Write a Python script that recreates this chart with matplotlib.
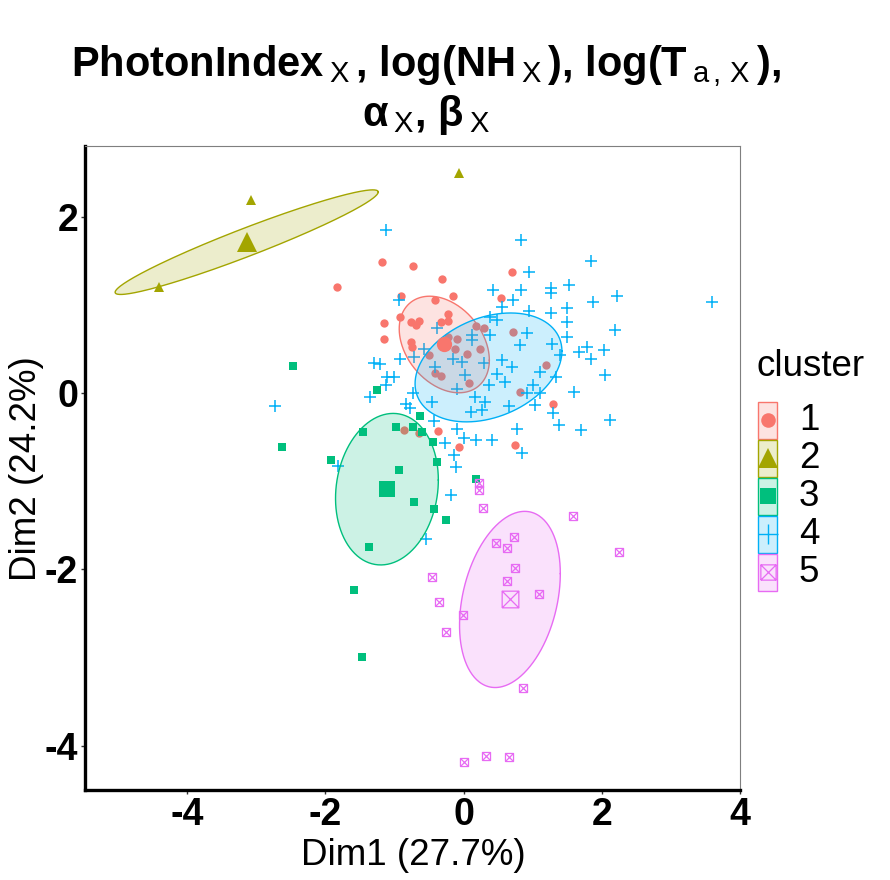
import numpy as np
import matplotlib
matplotlib.use("Agg")
import matplotlib.pyplot as plt
from matplotlib.path import Path
from matplotlib.patches import Rectangle

plt.rcParams['font.family'] = ['Liberation Sans', 'DejaVu Sans']
plt.rcParams['mathtext.fontset'] = 'custom'
plt.rcParams['mathtext.rm'] = 'Liberation Sans'
plt.rcParams['mathtext.bf'] = 'Liberation Sans:bold'
plt.rcParams['mathtext.it'] = 'Liberation Sans:italic'
plt.rcParams['axes.unicode_minus'] = False

colors = ['#F8766D', '#A3A500', '#00BF7D', '#00B0F6', '#E76BF3']
cluster_names = ['1', '2', '3', '4', '5']

# cluster 1
c1_x = [-1.18, -0.73, -0.31, -1.83, -0.15, -0.90, -0.42, 0.70, 0.54, -0.92,
        -1.15, -0.76, -0.64, -0.69, -0.23, -0.23, -0.33, -1.15, -0.76, -0.75,
        -0.23, -0.09, -0.12, 0.18, 0.30, 0.72, 0.24, 0.05, -0.50, -0.42,
        -0.33, 0.08, 1.19, 0.82, 1.30, -0.87, -0.64, -0.37, -0.06, 0.75]
c1_y = [1.49, 1.44, 1.29, 1.20, 1.10, 1.10, 1.05, 1.37, 1.08, 0.86,
        0.79, 0.81, 0.82, 0.77, 0.89, 0.82, 0.80, 0.61, 0.58, 0.52,
        0.64, 0.61, 0.50, 0.76, 0.74, 0.69, 0.50, 0.44, 0.43, 0.23,
        0.19, 0.11, 0.32, 0.01, -0.12, -0.42, -0.45, -0.43, -0.61, -0.59]

# cluster 2
c2_x = [-0.07, -3.08, -4.41]
c2_y = [2.49, 2.19, 1.20]

# cluster 3
c3_x = [-2.47, -1.26, -2.63, -1.92, -1.46, -0.98, -0.74, -0.63, -0.60, -0.44,
        -0.39, -0.94, -0.72, -0.43, -0.25, 0.18, -1.37, -1.58, -1.47]
c3_y = [0.31, 0.03, -0.61, -0.76, -0.44, -0.38, -0.39, -0.26, -0.44, -0.56,
        -0.78, -0.87, -1.24, -1.32, -1.44, -0.98, -1.74, -2.23, -2.99]

# cluster 4
c4_x = [-1.13, 0.83, 1.84, 0.94, 0.43, 0.83, 1.27, 1.27, 1.52, 2.22,
        0.71, 1.87, -0.93, 0.56, 0.95, 1.26, 1.50, 0.38, 0.49, 1.50,
        2.19, -0.38, 0.12, 0.38, 0.91, 0.12, 1.50, 0.82, 1.28, -0.58,
        -0.92, -0.72, -0.15, -0.02, 0.29, 0.56, 1.40, 1.67, 1.79, 2.03,
        1.84, -1.30, -1.21, -0.41, 0.70, 1.11, 0.49, -1.11, -1.01, 0.02,
        0.60, 1.33, 2.04, -1.13, -0.09, 0.36, 1.01, -1.36, -0.73, -0.46,
        0.17, 0.31, 0.92, 1.11, 1.60, -0.84, -0.78, 0.10, 0.27, 0.65,
        1.04, 1.30, 2.12, -0.43, -0.10, 0.77, 1.38, 1.70, 0.00, 0.18,
        0.41, -0.27, 0.84, -0.14, -2.73, -1.82, -0.18, -0.55, -0.11, 3.60]
c4_y = [1.85, 1.73, 1.50, 1.37, 1.17, 1.17, 1.19, 1.13, 1.22, 1.10,
        1.05, 1.03, 1.05, 0.97, 0.93, 0.91, 0.96, 0.86, 0.83, 0.81,
        0.71, 0.74, 0.66, 0.66, 0.68, 0.60, 0.64, 0.54, 0.55, 0.50,
        0.38, 0.41, 0.38, 0.35, 0.34, 0.37, 0.43, 0.47, 0.52, 0.49,
        0.39, 0.34, 0.33, 0.30, 0.30, 0.24, 0.22, 0.18, 0.18, 0.20,
        0.12, 0.18, 0.20, 0.09, 0.05, 0.09, 0.09, -0.04, 0.00, -0.10,
        -0.04, -0.10, 0.00, 0.00, 0.01, -0.12, -0.17, -0.21, -0.19, -0.15,
        -0.14, -0.23, -0.31, -0.32, -0.41, -0.41, -0.36, -0.42, -0.51, -0.53,
        -0.53, -0.57, -0.68, -0.70, -0.15, -0.83, -1.16, -1.66, -0.84, 1.03]

# cluster 5
c5_x = [0.22, 0.22, 0.28, 1.58, 2.25, 0.73, 0.47, 0.63, 0.74, 0.63,
        1.09, -0.46, -0.36, -0.01, -0.26, 0.86, 0.00, 0.33, 0.66]
c5_y = [-1.02, -1.10, -1.30, -1.39, -1.80, -1.63, -1.70, -1.76, -1.98, -2.13,
        -2.28, -2.09, -2.37, -2.52, -2.71, -3.34, -4.18, -4.11, -4.13]

# cluster centres (cluster 4 centre is hidden in the picture)
center_x = [-0.28, -3.14, -1.11, 0.36, 0.67]
center_y = [0.55, 1.71, -1.09, 0.29, -2.34]
show_center = [True, True, True, False, True]

# ellipse shape matrices (data units)
ell_sxx = [0.4253, 3.626, 0.5535, 1.1296, 0.532]
ell_syy = [0.2996, 0.3514, 0.7376, 0.3809, 0.997]
ell_sxy = [-0.1157, 1.0815, 0.0772, 0.197, 0.2134]

xs = [c1_x, c2_x, c3_x, c4_x, c5_x]
ys = [c1_y, c2_y, c3_y, c4_y, c5_y]

# square with a cross inside (R shape 7)
boxx = Path([(-1, -1), (1, -1), (1, 1), (-1, 1), (-1, -1),
             (-1, -1), (1, 1), (-1, 1), (1, -1)],
            [Path.MOVETO, Path.LINETO, Path.LINETO, Path.LINETO, Path.LINETO,
             Path.MOVETO, Path.LINETO, Path.MOVETO, Path.LINETO])

markers = ['o', '^', 's', '+', boxx]
pt_size = [6.0, 7.5, 5.6, 8.5, 5.8]
ctr_size = [11.0, 15.0, 11.5, 16.0, 12.0]

fig = plt.figure(figsize=(8.9, 8.8), dpi=100)
ax = fig.add_axes([85 / 890, 90 / 880, 655 / 890, 644 / 880])

for k in range(5):
    col = colors[k]
    if k == 3:
        ax.plot(xs[k], ys[k], ls='none', marker='+', ms=pt_size[k], mew=1.1,
                color=col, zorder=2)
    elif k == 4:
        ax.plot(xs[k], ys[k], ls='none', marker=boxx, ms=pt_size[k], mew=0.9,
                mfc='none', mec=col, zorder=2)
    else:
        ax.plot(xs[k], ys[k], ls='none', marker=markers[k], ms=pt_size[k],
                mew=0, color=col, zorder=2)

    # ellipse
    S = np.array([[ell_sxx[k], ell_sxy[k]], [ell_sxy[k], ell_syy[k]]])
    L = np.linalg.cholesky(S)
    t = np.linspace(0, 2 * np.pi, 300)
    pts = L @ np.vstack([np.cos(t), np.sin(t)])
    ex = center_x[k] + pts[0]
    ey = center_y[k] + pts[1]
    ax.fill(ex, ey, facecolor=col, alpha=0.2, edgecolor='none', zorder=3)
    ax.plot(ex, ey, color=col, lw=1.0, zorder=3)

    if show_center[k]:
        if k == 4:
            ax.plot(center_x[k], center_y[k], ls='none', marker=boxx,
                    ms=ctr_size[k], mew=0.9, mfc='none', mec=col, zorder=4)
        else:
            ax.plot(center_x[k], center_y[k], ls='none', marker=markers[k],
                    ms=ctr_size[k], mew=0, color=col, zorder=4)

ax.set_xlim(-5.48, 4.0)
ax.set_ylim(-4.5, 2.8)
ax.set_xticks([-4, -2, 0, 2, 4])
ax.set_yticks([-4, -2, 0, 2])
ax.tick_params(labelsize=27, length=3, width=1, color='#333333', pad=2)
for lab in ax.get_xticklabels() + ax.get_yticklabels():
    lab.set_fontweight('bold')
for s in ['left', 'bottom']:
    ax.spines[s].set_linewidth(2.4)
    ax.spines[s].set_color('black')
for s in ['top', 'right']:
    ax.spines[s].set_linewidth(0.8)
    ax.spines[s].set_color('#7f7f7f')

fig.text(413 / 890, 1 - 855 / 880, 'Dim1 (27.7%)', fontsize=26.5,
         ha='center', va='center')
fig.text(27 / 890, 1 - 469 / 880, 'Dim2 (24.2%)', fontsize=26.5,
         ha='center', va='center', rotation=90)

title = (r"PhotonIndex$\,_{\mathrm{X}}\,$, log(NH$\,_{\mathrm{X}}\,$), "
         r"log(T$\,_{\mathrm{a\,,\,X}}\,$),"
         "\n" r"$\mathbf{\alpha}\,_{\mathrm{X}}$, $\mathbf{\beta}\,_{\mathrm{X}}$")
fig.text(426 / 890, 1 - 43 / 880, title, ha='center', va='top', fontsize=30,
         fontweight='bold', linespacing=1.12)

# legend
lax = fig.add_axes([0, 0, 1, 1], facecolor='none')
lax.set_xlim(0, 890)
lax.set_ylim(880, 0)
lax.axis('off')
lax.text(757, 367, 'cluster', fontsize=26.5, ha='left', va='center')
leg_ms = [10.5, 14.0, 11.0, 15.0, 11.0]
for k in range(5):
    top = 402 + 38 * k
    col = colors[k]
    lax.add_patch(Rectangle((758, top), 19, 37, facecolor=col, alpha=0.2,
                            edgecolor='none'))
    lax.add_patch(Rectangle((758, top), 19, 37, facecolor='none',
                            edgecolor=col, lw=1.0))
    cx, cy = 767.5, top + 18.5
    if k == 3:
        lax.plot(cx, cy, marker='+', ms=leg_ms[k], mew=1.0, color=col)
    elif k == 4:
        lax.plot(cx, cy, marker=boxx, ms=leg_ms[k], mew=0.9, mfc='none', mec=col)
    else:
        lax.plot(cx, cy, marker=markers[k], ms=leg_ms[k], mew=0, color=col)
    lax.text(799, cy, cluster_names[k], fontsize=26.5, ha='left', va='center')

fig.savefig('out.png', dpi=100)
